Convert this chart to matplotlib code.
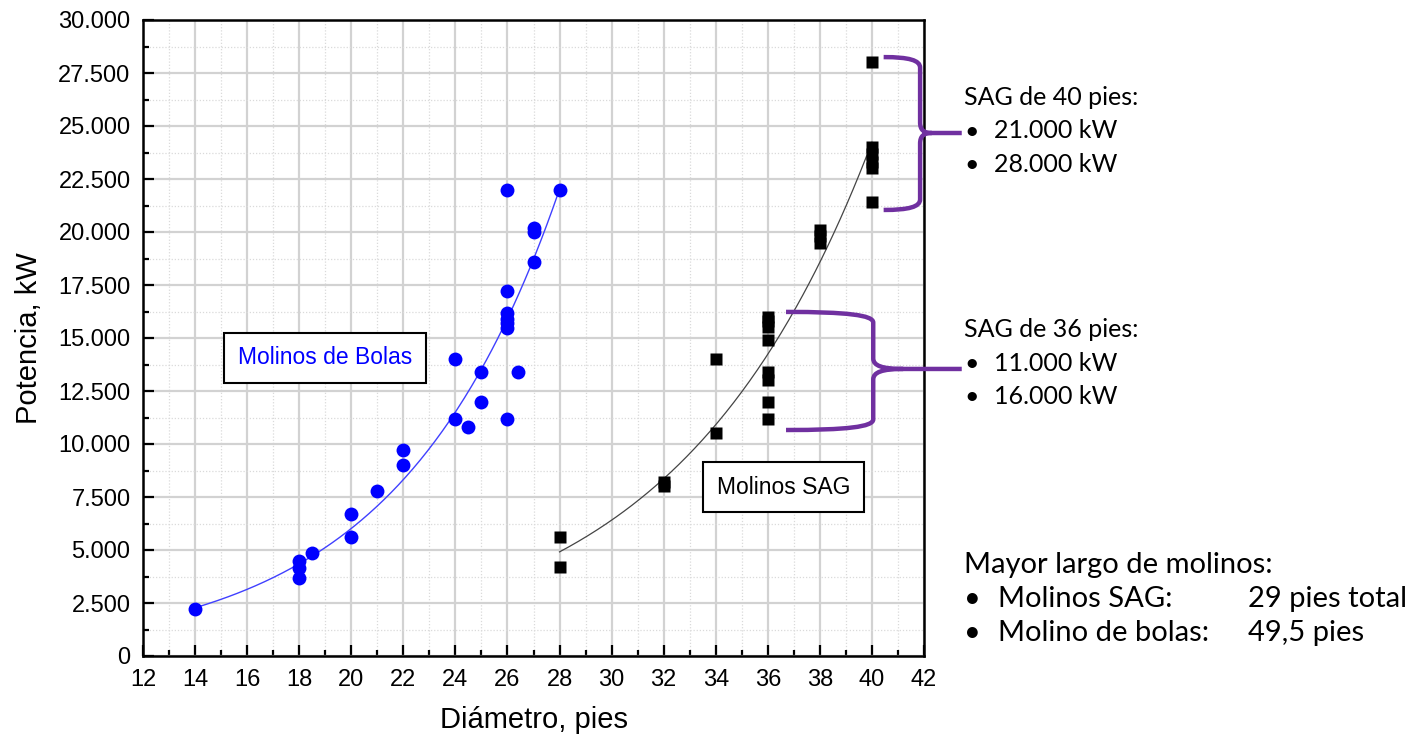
import numpy as np
import matplotlib
matplotlib.use("Agg")
import matplotlib.pyplot as plt
from matplotlib.path import Path
from matplotlib.patches import PathPatch
from matplotlib.ticker import MultipleLocator, FuncFormatter

# Molinos de bolas: diametro (pies) y potencia (kW)
bolas_d = [14, 18, 18, 18, 18.5, 20, 20, 21, 22, 22, 24, 24, 24.5, 25, 25,
           26, 26, 26, 26, 26, 26, 26, 26.4, 27, 27, 27, 28]
bolas_kw = [2200, 4500, 4150, 3700, 4850, 6700, 5600, 7800, 9700, 9000, 14000, 11200, 10800, 13400, 12000,
            22000, 17200, 16200, 15900, 15700, 15450, 11200, 13400, 20200, 20000, 18600, 22000]

# Molinos SAG
sag_d = [28, 28, 32, 32, 34, 34, 36, 36, 36, 36, 36, 36, 36, 36,
         38, 38, 38, 40, 40, 40, 40, 40, 40]
sag_kw = [5600, 4200, 8200, 8000, 14000, 10500, 16000, 15800, 15500, 14900, 13400, 13000, 12000, 11200,
          20100, 19800, 19500, 28000, 24000, 23700, 23300, 23000, 21400]

notas_40 = ["SAG de 40 pies:", "21.000 kW", "28.000 kW"]
notas_36 = ["SAG de 36 pies:", "11.000 kW", "16.000 kW"]
largo_titulo = "Mayor largo de molinos:"
largo_items = [("Molinos SAG:", "29 pies total"), ("Molino de bolas:", "49,5 pies")]

arial = "Liberation Sans"
calibri = "Lato"
plt.rcParams["font.family"] = arial
plt.rcParams["xtick.labelsize"] = 17
plt.rcParams["ytick.labelsize"] = 17

W, H = 1416, 744
fig = plt.figure(figsize=(W / 100, H / 100), dpi=100)
ax = fig.add_axes([143 / W, 1 - 656 / H, (924 - 143) / W, (656 - 20) / H])


def exp_fit(x, y):
    x = np.asarray(x, float)
    y = np.asarray(y, float)
    b, ln_a = np.polyfit(x, np.log(y), 1)
    return np.exp(ln_a), b


# ajustes exponenciales
a1, b1 = exp_fit(bolas_d, bolas_kw)
xs1 = np.linspace(min(bolas_d), max(bolas_d), 200)
ax.plot(xs1, a1 * np.exp(b1 * xs1), color="#4040ff", lw=1.0, zorder=3)

a2, b2 = exp_fit(sag_d, sag_kw)
xs2 = np.linspace(min(sag_d), max(sag_d), 200)
ax.plot(xs2, a2 * np.exp(b2 * xs2), color="#444444", lw=0.9, zorder=3)

ax.plot(bolas_d, bolas_kw, "o", color="#0000ff", ms=10, mec="none", zorder=4)
ax.plot(sag_d, sag_kw, "s", color="black", ms=8.8, mec="none", zorder=4)

ax.set_xlim(12, 42)
ax.set_ylim(0, 30000)
ax.xaxis.set_major_locator(MultipleLocator(2))
ax.xaxis.set_minor_locator(MultipleLocator(1))
ax.yaxis.set_major_locator(MultipleLocator(2500))
ax.yaxis.set_minor_locator(MultipleLocator(1250))
ax.yaxis.set_major_formatter(FuncFormatter(lambda v, p: f"{v:,.0f}".replace(",", ".")))

ax.grid(which="major", color="#d2d2d2", lw=1.6, zorder=0)
ax.grid(which="minor", color="#dadada", lw=0.9, ls=(0, (1, 1.5)), zorder=0)
ax.set_axisbelow(True)

ax.tick_params(which="both", direction="in", top=False, right=False, width=1.6)
ax.tick_params(which="major", length=8, pad=9)
ax.tick_params(which="minor", length=4.5)
for s in ax.spines.values():
    s.set_linewidth(1.8)

ax.set_xlabel("Diámetro, pies", fontsize=21, labelpad=11)
ax.set_ylabel("Potencia, kW", fontsize=21, labelpad=11)

box = dict(boxstyle="square,pad=0.6", fc="white", ec="black", lw=1.5)
ax.text(19.0, 14060, "Molinos de Bolas", color="#0000ff", fontsize=16.5,
        ha="center", va="center", bbox=box, zorder=5)
ax.text(36.6, 7970, "Molinos SAG", color="black", fontsize=16.5,
        ha="center", va="center", bbox=box, zorder=5)


def brace(x0, xv, xc, xe, ytop, ymid, ybot, ry):
    verts, codes = [], []
    for yend, sgn in ((ytop, 1), (ybot, -1)):
        verts += [(x0, yend),
                  (x0 + 0.7 * (xv - x0), yend), (xv, yend - sgn * 0.3 * ry), (xv, yend - sgn * ry),
                  (xv, ymid + sgn * ry),
                  (xv, ymid + sgn * 0.3 * ry), (xv + 0.3 * (xc - xv), ymid), (xc, ymid)]
        codes += [Path.MOVETO, Path.CURVE4, Path.CURVE4, Path.CURVE4,
                  Path.LINETO, Path.CURVE4, Path.CURVE4, Path.CURVE4]
    verts += [(xc, ymid), (xe, ymid)]
    codes += [Path.MOVETO, Path.LINETO]
    ax.add_patch(PathPatch(Path(verts, codes), fill=False, ec="#7030a0", lw=3.2,
                           capstyle="butt", joinstyle="round", clip_on=False, zorder=6))


brace(40.45, 41.85, 42.3, 43.45, 28250, 24670, 21040, 500)
brace(36.7, 40.05, 41.2, 43.45, 16230, 13540, 10660, 500)


def fy(py):
    return 1 - py / H


def notas(lines, py0, step=33.5, size=18):
    fig.text(964 / W, fy(py0), lines[0], fontsize=size, family=calibri, va="baseline")
    for i, t in enumerate(lines[1:], 1):
        fig.text(964 / W, fy(py0 + i * step), "•", fontsize=size, family=calibri, va="baseline")
        fig.text(994 / W, fy(py0 + i * step), t, fontsize=size, family=calibri, va="baseline")


notas(notas_40, 105)
notas(notas_36, 337)

fig.text(964 / W, fy(573), largo_titulo, fontsize=21, family=calibri, va="baseline")
for i, (a, b) in enumerate(largo_items, 1):
    yy = fy(573 + i * 34)
    fig.text(964 / W, yy, "•", fontsize=21, family=calibri, va="baseline")
    fig.text(998 / W, yy, a, fontsize=21, family=calibri, va="baseline")
    fig.text(1248 / W, yy, b, fontsize=21, family=calibri, va="baseline")

fig.savefig("out.png", dpi=100)
